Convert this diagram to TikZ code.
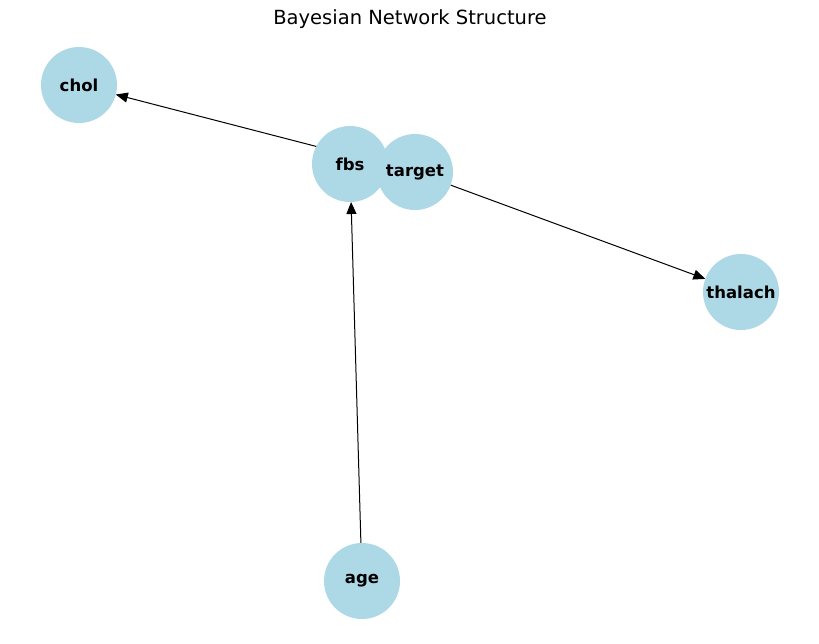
\documentclass[tikz,border=0pt]{standalone}
\usepackage{fontspec}
\setmainfont{DejaVu Sans}
\usetikzlibrary{arrows.meta,backgrounds}

\begin{document}
\begin{tikzpicture}[x=1pt, y=-1pt, >={Triangle[length=12pt, width=10pt]}]
    \tikzstyle{var} = [circle, fill=nodeblue, minimum size=76pt, inner sep=0pt, outer sep=0pt, font=\fontsize{16.5}{18}\selectfont\bfseries]
    \tikzstyle{link} = [->, line width=1pt]
    \definecolor{nodeblue}{HTML}{ADD8E6}
    \useasboundingbox (0,0) rectangle (819,643);

    \node [font=\fontsize{19.5}{22}\selectfont] (title) at (410,19) {Bayesian Network Structure};

    \node [var] (chol) at (79,85) {chol};
    \node [var] (fbs) at (350,164) {fbs};
    \node [var] (target) at (415,172) {target};
    \node [var] (thalach) at (741,292) {thalach};
    \node [var] (age) at (362,581) {age};

    % edges sit under the nodes
    \begin{scope}[on background layer]
        \draw [link] (target) -- (chol);
        \draw [link] (target) -- (thalach);
        \draw [link] (age) -- (fbs);
    \end{scope}
\end{tikzpicture}
\end{document}
